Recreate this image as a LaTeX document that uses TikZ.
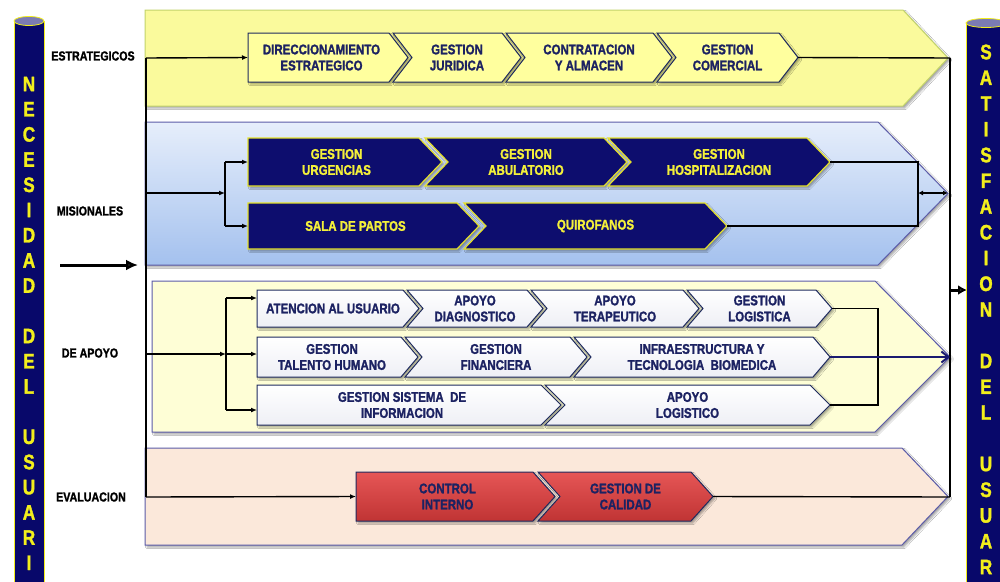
\documentclass[tikz,border=0pt]{standalone}
\usepackage{fontspec}
\newfontfamily\narrowsans{Liberation Sans Bold}[FakeStretch=0.82, FakeBold=1.5]
\usetikzlibrary{arrows.meta,shadows.blur}

\definecolor{pillnavy}{HTML}{08086A}
\definecolor{pillyel}{HTML}{F2EE1C}
\definecolor{pilltop}{HTML}{7B7BB3}
\definecolor{bandA}{HTML}{FAFA9C}
\definecolor{bandAline}{HTML}{C2D36A}
\definecolor{bandBtop}{HTML}{E6EEFB}
\definecolor{bandBbot}{HTML}{A4C1EE}
\definecolor{bandline}{HTML}{5B5BA8}
\definecolor{bandC}{HTML}{FEFED6}
\definecolor{bandD}{HTML}{FBE8DA}
\definecolor{yelfill}{HTML}{FFFF9E}
\definecolor{darkline}{HTML}{1E2A5E}
\definecolor{darktext}{HTML}{1C2262}
\definecolor{navyfill}{HTML}{0D0D6E}
\definecolor{navyline}{HTML}{E4E02A}
\definecolor{navytext}{HTML}{F4F03A}
\definecolor{whitebot}{HTML}{EEEFF5}
\definecolor{redtop}{HTML}{E65656}
\definecolor{redbot}{HTML}{C03434}
\definecolor{arrnavy}{HTML}{1A1A70}

\tikzset{
  conn/.style={draw=black, line width=1.4pt},
  arr/.style={-{Latex[length=6pt,width=5pt]}},
  soft/.style={blur shadow={shadow xshift=2pt, shadow yshift=-2pt, shadow opacity=35, shadow blur steps=4}},
  boxtext/.style={font=\narrowsans\fontsize{14}{16}\selectfont, align=center, inner sep=0pt},
  lbl/.style={font=\narrowsans\fontsize{13}{15}\selectfont, text=black, inner sep=0pt},
  pilltext/.style={font=\narrowsans\fontsize{21}{21}\selectfont, text=pillyel, inner sep=0pt},
  band/.style={draw=bandline, line width=1pt, soft},
  yel box/.style={fill=yelfill, draw=darkline, line width=1pt, soft},
  yel text/.style={boxtext, text=darktext},
  navy box/.style={fill=navyfill, draw=navyline, line width=1.2pt, soft},
  navy text/.style={boxtext, text=navytext},
  wht box/.style={top color=white, bottom color=whitebot, draw=darkline, line width=1pt, soft},
  wht text/.style={boxtext, text=darktext},
  red box/.style={top color=redtop, bottom color=redbot, draw=darkline, line width=1pt, soft},
  red text/.style={boxtext, text=darktext},
}

% chevron: name, left x, right x (top corner), top y, bottom y, point depth, notched (0/1), style, text
\newcommand\chevbox[9]{%
  \path[#8 box] (#2,#4) -- (#3,#4) -- ({#3+#6},{(#4+#5)/2}) -- (#3,#5) -- (#2,#5)
        -- ({#2+#7*#6},{(#4+#5)/2}) -- cycle;
  \coordinate (#1-w) at ({#2+#7*#6},{(#4+#5)/2});
  \coordinate (#1-e) at ({#3+#6},{(#4+#5)/2});
  \node[#8 text] (#1) at ({(#2+#7*#6+#3)/2+3*(1-#7)},{(#4+#5)/2}) {#9};
}

\begin{document}
\begin{tikzpicture}[x=1pt,y=-1pt]
\useasboundingbox (0,0) rectangle (1000,581);
\fill[white] (0,0) rectangle (1000,581);

% ---- process bands ----
\path[band, fill=bandA, draw=bandAline] (145,10) -- (903,10) -- (948,58) -- (903,106) -- (145,106) -- cycle;
\path[band, top color=bandBtop, bottom color=bandBbot] (145,122) -- (878,122) -- (948,193.5) -- (878,265) -- (145,265) -- cycle;
\path[band, fill=bandC] (152,281) -- (875,281) -- (950,357) -- (875,432) -- (152,432) -- cycle;
\path[band, fill=bandD] (145,448) -- (902,448) -- (948,496.5) -- (902,545) -- (145,545) -- cycle;

% ---- strategic processes ----
\chevbox{dir}{248}{389}{33}{82}{19}{0}{yel}{DIRECCIONAMIENTO\\ESTRATEGICO}
\chevbox{jur}{393}{502}{33}{82}{19}{1}{yel}{GESTION\\JURIDICA}
\chevbox{con}{506}{653}{33}{82}{19}{1}{yel}{CONTRATACION\\Y ALMACEN}
\chevbox{com}{657}{779}{33}{82}{19}{1}{yel}{GESTION\\COMERCIAL}

% ---- core processes ----
\chevbox{urg}{248}{419}{138}{186}{23}{0}{navy}{GESTION\\URGENCIAS}
\chevbox{abu}{425}{604}{138}{186}{23}{1}{navy}{GESTION\\ABULATORIO}
\chevbox{hos}{608}{807}{138}{186}{23}{1}{navy}{GESTION\\HOSPITALIZACION}
\chevbox{sal}{248}{457}{203}{249}{22}{0}{navy}{SALA DE PARTOS}
\chevbox{qui}{464}{705}{203}{249}{22}{1}{navy}{QUIROFANOS}

% ---- support processes ----
\chevbox{ate}{257}{403}{290}{327}{16}{0}{wht}{ATENCION AL USUARIO}
\chevbox{dia}{407}{527}{290}{327}{16}{1}{wht}{APOYO\\DIAGNOSTICO}
\chevbox{ter}{531}{683}{290}{327}{16}{1}{wht}{APOYO\\TERAPEUTICO}
\chevbox{glo}{687}{816}{290}{327}{16}{1}{wht}{GESTION\\LOGISTICA}
\chevbox{tal}{257}{401}{337}{377}{17}{0}{wht}{GESTION\\TALENTO HUMANO}
\chevbox{fin}{405}{570}{337}{377}{17}{1}{wht}{GESTION\\FINANCIERA}
\chevbox{inf}{574}{813}{337}{377}{17}{1}{wht}{INFRAESTRUCTURA Y\\TECNOLOGIA~ BIOMEDICA}
\chevbox{sis}{257}{541}{385}{425}{20}{0}{wht}{GESTION SISTEMA~ DE\\INFORMACION}
\chevbox{alo}{545}{810}{385}{425}{20}{1}{wht}{APOYO\\LOGISTICO}

% ---- evaluation processes ----
\chevbox{ctl}{356}{533}{472}{521}{22}{0}{red}{CONTROL\\INTERNO}
\chevbox{cal}{538}{691}{472}{521}{22}{1}{red}{GESTION DE\\CALIDAD}

% ---- junction points ----
\coordinate (lTop) at (146,58);
\coordinate (lMis) at (146,193);
\coordinate (lApo) at (146,354);
\coordinate (lBot) at (146,497);
\coordinate (mSplit) at (225,193);
\coordinate (mUp) at (225,162);
\coordinate (mDn) at (225,226);
\coordinate (aSplit) at (226,354);
\coordinate (aUp) at (226,298);
\coordinate (aDn) at (226,410);
\coordinate (mJoin) at (918,193);
\coordinate (mJoinDn) at (918,226);
\coordinate (aJoinDn) at (878,405);
\coordinate (rTop) at (950,58);
\coordinate (rMis) at (948,193);
\coordinate (rApo) at (950,357);
\coordinate (rOut) at (950,290);
\coordinate (rBot) at (950,497);
\coordinate (inFrom) at (60,265);
\coordinate (inTo) at (138,265);
\coordinate (outTo) at (967,290);

% ---- connectors ----
\draw[conn] (lTop) -- (lBot);
\draw[conn] (rTop) -- (rBot);
\draw[conn, arr] (lTop) -- (dir-w);
\draw[conn] (com-e) -- (rTop);

\draw[conn, arr] (lMis) -- (mSplit);
\draw[conn] (mUp) -- (mDn);
\draw[conn, arr] (mUp) -- (urg-w);
\draw[conn, arr] (mDn) -- (sal-w);
\draw[conn] (hos-e) -| (mJoinDn) -- (qui-e);
\draw[conn, line width=1.2pt, {Latex[length=5pt,width=5pt]}-{Latex[length=5pt,width=5pt]}] (mJoin) -- (rMis);

\draw[conn, arr] (lApo) -- (aSplit);
\draw[conn] (aUp) -- (aDn);
\draw[conn, arr] (aUp) -- (aUp -| ate-w);
\draw[conn, arr] (aSplit) -- (aSplit -| tal-w);
\draw[conn, arr] (aDn) -- (aDn -| sis-w);
\draw[conn] (glo-e) -| (aJoinDn) -- (alo-e);
\draw[draw=arrnavy, line width=2pt, -{Straight Barb[length=7pt,width=11pt]}] (inf-e) -- (rApo);

\draw[conn, arr] (lBot) -- (ctl-w);
\draw[conn] (cal-e) -- (rBot);

\draw[line width=3pt, -{Latex[length=12pt,width=11pt]}] (inFrom) -- (inTo);
\draw[line width=3pt, -{Latex[length=9pt,width=10pt]}] (rOut) -- (outTo);

% ---- band labels ----
\node[lbl] (lblE) at (93,56) {ESTRATEGICOS};
\node[lbl] (lblM) at (90,211) {MISIONALES};
\node[lbl] (lblA) at (90,353) {DE APOYO};
\node[lbl] (lblV) at (91,497) {EVALUACION};

% ---- left pillar: user needs ----
\path[fill=pillnavy, draw=pillyel, line width=0.8pt] (14,21) rectangle (44,600);
\path[fill=pilltop, draw=pillyel, line width=0.8pt] (29,21) ellipse [x radius=15pt, y radius=4.5pt];
\foreach \ch/\i in {N/0,E/1,C/2,E/3,S/4,I/5,D/6,A/7,D/8,D/10,E/11,L/12,U/14,S/15,U/16,A/17,R/18,I/19}
  \node[pilltext] (ln\i) at (29,{84+25.2*\i}) {\ch};

% ---- right pillar: user satisfaction ----
\path[fill=pillnavy, draw=pillyel, line width=0.8pt] (966,23) rectangle (1006,600);
\path[fill=pilltop, draw=pillyel, line width=0.8pt] (986,23) ellipse [x radius=20pt, y radius=4.5pt];
\foreach \ch/\i in {S/0,A/1,T/2,I/3,S/4,F/5,A/6,C/7,I/8,O/9,N/10,D/12,E/13,L/14,U/16,S/17,U/18,A/19,R/20}
  \node[pilltext] (rn\i) at (986,{52+25.75*\i}) {\ch};
\end{tikzpicture}
\end{document}
